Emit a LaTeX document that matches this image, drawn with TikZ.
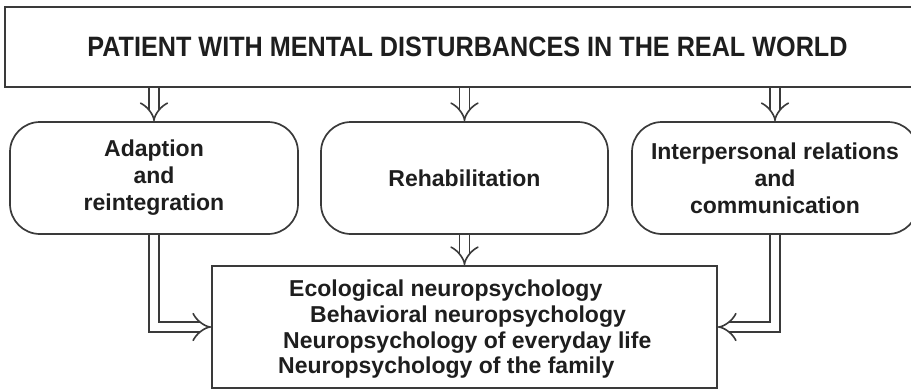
\documentclass[tikz,border=0pt]{standalone}
\usepackage{fontspec}
\setmainfont{Liberation Sans}
\newfontfamily\narrowfont{Liberation Sans}[FakeStretch=0.9]
\usetikzlibrary{arrows.meta}
\definecolor{linec}{HTML}{3A3A3A}
\definecolor{textc}{HTML}{1E1E1E}
\begin{document}
\begin{tikzpicture}[x=1pt,y=-1pt,
  box/.style={draw=linec, line width=1.7pt, fill=white, inner sep=0pt, text=textc},
  rbox/.style={box, rounded corners=30pt, minimum height=112pt, align=center,
    font=\bfseries\fontsize{23}{27}\selectfont},
  dbl/.style={draw=linec, line width=1.6pt, double=white, double distance=8.5pt, -{Implies[scale=1.35]}},
  txtline/.style={font=\bfseries\fontsize{23}{26}\selectfont, anchor=base west, inner sep=0pt, text=textc}
]
\useasboundingbox (0,0) rectangle (911,389);
\clip (0,0) rectangle (911,389);
\fill[white] (0,0) rectangle (911,389);
\node[box, minimum width=925pt, minimum height=80pt,
  font=\narrowfont\bfseries\fontsize{28}{30}\selectfont] (top) at (467.5,47)
  {PATIENT WITH MENTAL DISTURBANCES IN THE REAL WORLD};
\node[rbox, minimum width=288pt] (adapt) at (154,178) {Adaption\\and\\reintegration};
\node[rbox, minimum width=287pt] (rehab) at (464.5,178) {Rehabilitation};
\node[rbox, minimum width=286pt] (inter) at (775,178) {Interpersonal relations\\and\\communication};
\node[box, minimum width=505pt, minimum height=122pt] (bottom) at (464.5,327) {};
\node[txtline] (l1) at (289,296) {Ecological neuropsychology};
\node[txtline] (l2) at (310,322) {Behavioral neuropsychology};
\node[txtline] (l3) at (283,348) {Neuropsychology of everyday life};
\node[txtline] (l4) at (278,373) {Neuropsychology of the family};
\draw[dbl] (top.south -| adapt.north) -- (adapt.north);
\draw[dbl] (top.south -| rehab.north) -- (rehab.north);
\draw[dbl] (top.south -| inter.north) -- (inter.north);
\draw[dbl] (rehab.south) -- (rehab.south |- bottom.north);
\draw[dbl] (adapt.south) |- (bottom.west);
\draw[dbl] (inter.south) |- (bottom.east);
\end{tikzpicture}
\end{document}
